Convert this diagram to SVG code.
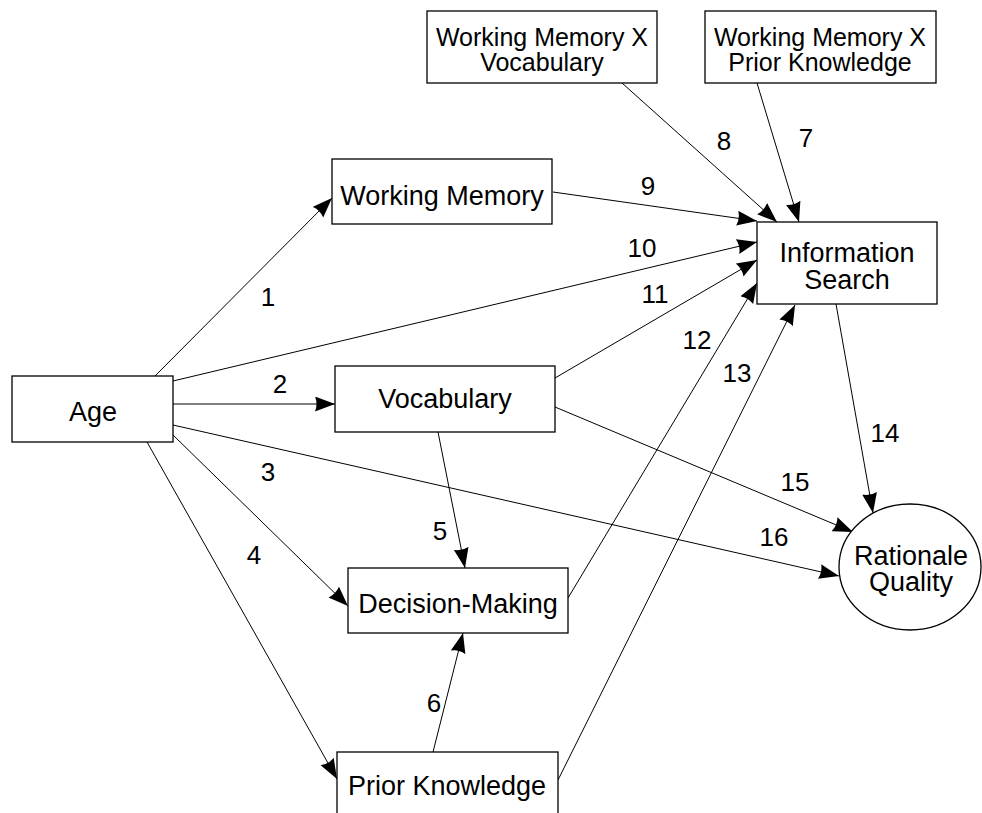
<svg xmlns="http://www.w3.org/2000/svg" width="982" height="813" viewBox="0 0 982 813">
  <style>
    .node { fill: #fff; stroke: #000; stroke-width: 1.3; }
    .lbl { font-family: "Liberation Sans", Arial, sans-serif; font-size: 26px; fill: #000; text-anchor: middle; }
    .name { font-size: 27px; }
    .pair { font-size: 25px; }
    .edge { stroke: #000; stroke-width: 1; fill: none; marker-end: url(#arrow); }
  </style>
  <defs>
    <marker id="arrow" markerUnits="userSpaceOnUse" markerWidth="21" markerHeight="16" refX="20" refY="7.5" orient="auto">
      <path d="M0,0 L20,7.5 L0,15 Q3,7.5 0,0 z" fill="#000"/>
    </marker>
  </defs>
  <rect width="982" height="813" fill="#fff"/>

  <!-- connectors -->
  <g id="connectors">
    <line class="edge" x1="155" y1="376" x2="332" y2="198"/>
    <line class="edge" x1="173" y1="404" x2="335" y2="404"/>
    <line class="edge" x1="173" y1="435" x2="348" y2="606"/>
    <line class="edge" x1="147" y1="442" x2="337" y2="779"/>
    <line class="edge" x1="438" y1="432" x2="465" y2="568"/>
    <line class="edge" x1="433" y1="752" x2="463" y2="633"/>
    <line class="edge" x1="757" y1="83" x2="799" y2="222"/>
    <line class="edge" x1="622" y1="83" x2="777" y2="222"/>
    <line class="edge" x1="553" y1="192" x2="757" y2="221"/>
    <line class="edge" x1="173" y1="381" x2="757" y2="242"/>
    <line class="edge" x1="555" y1="378" x2="757" y2="260"/>
    <line class="edge" x1="568" y1="598" x2="757" y2="283"/>
    <line class="edge" x1="558" y1="780" x2="795" y2="305"/>
    <line class="edge" x1="836" y1="304" x2="873" y2="513"/>
    <line class="edge" x1="555" y1="407" x2="853" y2="532"/>
    <line class="edge" x1="173" y1="425" x2="839" y2="576"/>
  </g>

  <!-- path coefficient labels -->
  <g id="edge-labels" class="lbl">
    <text x="268" y="306">1</text>
    <text x="280" y="393">2</text>
    <text x="268" y="481">3</text>
    <text x="254" y="564">4</text>
    <text x="440" y="540">5</text>
    <text x="434" y="712">6</text>
    <text x="806" y="147">7</text>
    <text x="724" y="150">8</text>
    <text x="648" y="195">9</text>
    <text x="642" y="257">10</text>
    <text x="655" y="303">11</text>
    <text x="697" y="349">12</text>
    <text x="737" y="382">13</text>
    <text x="885" y="442">14</text>
    <text x="795" y="491">15</text>
    <text x="774" y="546">16</text>
  </g>

  <g id="age">
    <rect class="node" x="12" y="376" width="161" height="66"/>
    <text class="lbl name" x="93" y="421">Age</text>
  </g>
  <g id="wm-x-vocab">
    <rect class="node" x="427" y="11" width="230" height="72"/>
    <text class="lbl pair" x="542" y="46">Working Memory X<tspan x="542" dy="25">Vocabulary</tspan></text>
  </g>
  <g id="wm-x-prior">
    <rect class="node" x="705" y="11" width="231" height="72"/>
    <text class="lbl pair" x="820" y="46">Working Memory X<tspan x="820" dy="25">Prior Knowledge</tspan></text>
  </g>
  <g id="working-memory">
    <rect class="node" x="332" y="159" width="220" height="65"/>
    <text class="lbl name" x="442" y="205">Working Memory</text>
  </g>
  <g id="information-search">
    <rect class="node" x="757" y="222" width="180" height="82"/>
    <text class="lbl name" x="847" y="262">Information<tspan x="847" dy="27">Search</tspan></text>
  </g>
  <g id="vocabulary">
    <rect class="node" x="335" y="366" width="220" height="66"/>
    <text class="lbl name" x="445" y="408">Vocabulary</text>
  </g>
  <g id="decision-making">
    <rect class="node" x="348" y="568" width="220" height="65"/>
    <text class="lbl name" x="458" y="613">Decision-Making</text>
  </g>
  <g id="prior-knowledge">
    <rect class="node" x="337" y="752" width="221" height="70"/>
    <text class="lbl name" x="447" y="795">Prior Knowledge</text>
  </g>
  <g id="rationale-quality">
    <ellipse class="node" cx="910" cy="567" rx="71" ry="63"/>
    <text class="lbl name" x="911" y="565">Rationale<tspan x="911" dy="26">Quality</tspan></text>
  </g>
</svg>
